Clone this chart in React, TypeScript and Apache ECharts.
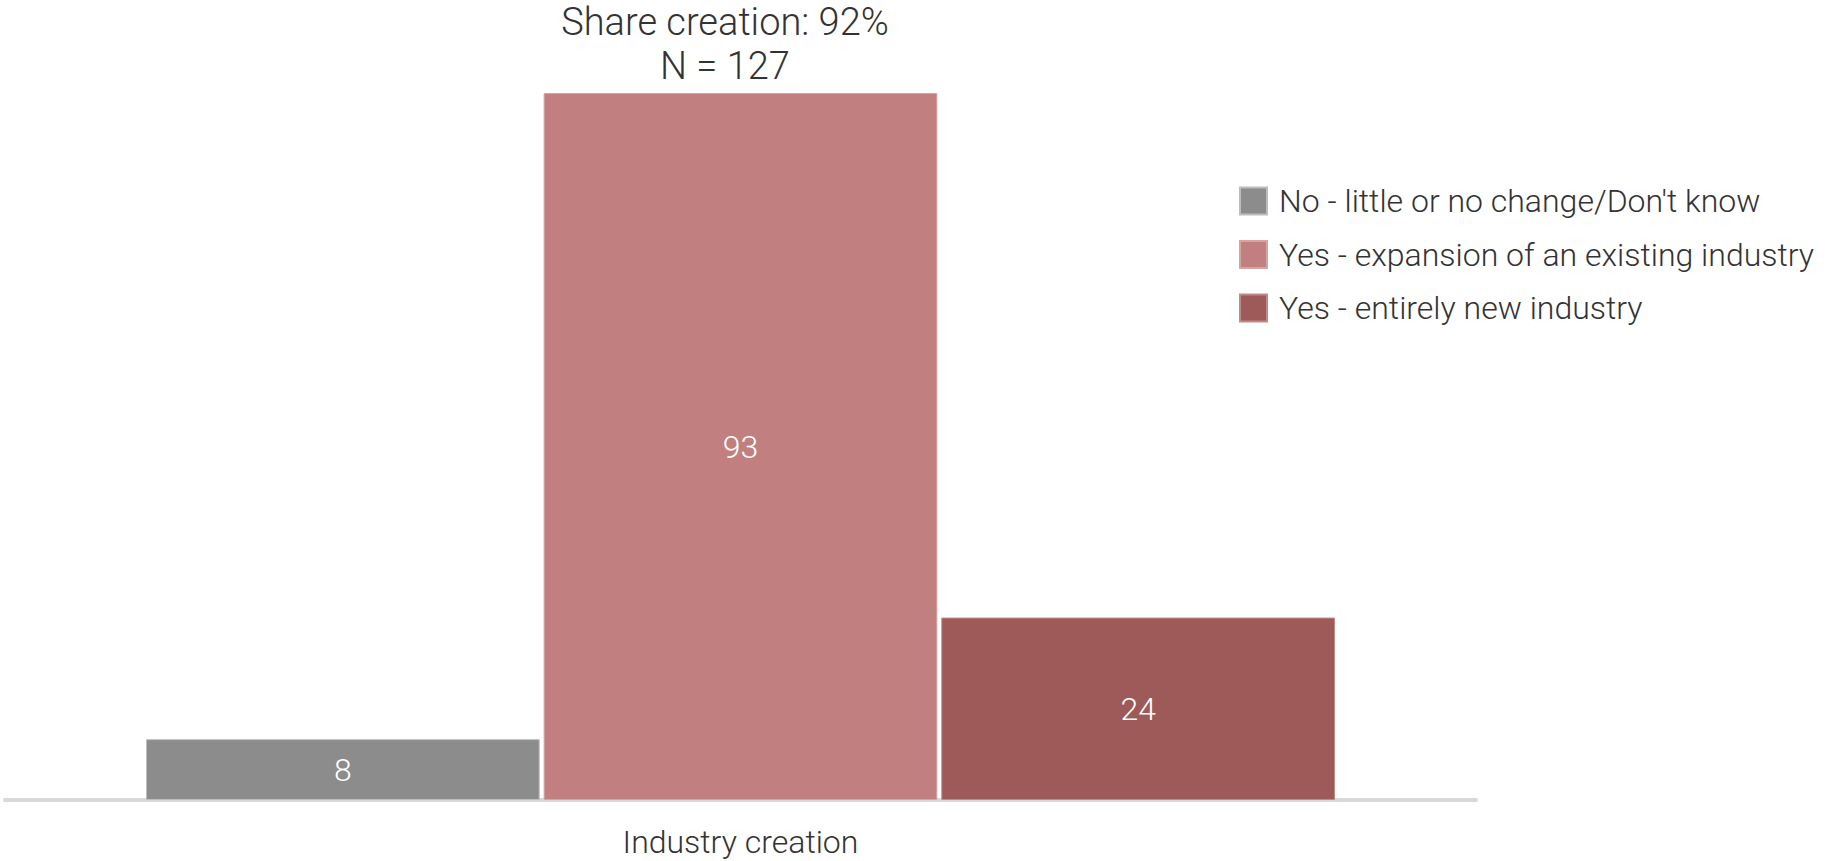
import React, { useEffect, useRef } from "react";
import * as echarts from "echarts";

const categories = ["Industry creation"];
const seriesNames = [
  "No - little or no change/Don't know",
  "Yes - expansion of an existing industry",
  "Yes - entirely new industry",
];
const noChange = [8];
const expansion = [93];
const newIndustry = [24];
const colors = ["#8c8c8c", "#c27f7f", "#9e5959"];
const borderColors = ["#bdbdbd", "#d9a3a3", "#c08a8a"];
const titleLines = ["Share creation: 92%", "N = 127"];

const FONT = "Roboto";
const TEXT_COLOR = "#333333";

export default function App() {
  const ref = useRef<HTMLDivElement>(null);
  useEffect(() => {
    document.body.style.margin = "0";
    const chart = echarts.init(ref.current!, null, { renderer: "svg" });
    const values = [noChange, expansion, newIndustry];
    chart.setOption({
      animation: false,
      textStyle: { fontFamily: FONT, fontWeight: 300 },
      grid: { left: 5, right: 351, top: 93, bottom: 61, containLabel: false },
      legend: {
        orient: "vertical",
        left: 1239,
        top: 185,
        padding: 0,
        itemWidth: 27,
        itemHeight: 27,
        itemGap: 21.5,
        icon: "rect",
        data: seriesNames,
        textStyle: {
          fontFamily: FONT,
          fontWeight: 300,
          fontSize: 32,
          color: TEXT_COLOR,
          padding: [0, 0, 0, 7],
        },
      },
      xAxis: {
        type: "category",
        data: categories,
        offset: 2,
        axisLine: { show: true, lineStyle: { color: "#d9d9d9", width: 4 } },
        axisTick: { show: false },
        axisLabel: {
          margin: 24,
          fontFamily: FONT,
          fontWeight: 300,
          fontSize: 32,
          color: TEXT_COLOR,
        },
      },
      yAxis: {
        type: "value",
        min: 0,
        max: 93,
        show: false,
        splitLine: { show: false },
      },
      graphic: [
        {
          type: "text",
          x: 725,
          y: 0,
          style: {
            text: titleLines.join("\n"),
            textAlign: "center",
            textVerticalAlign: "top",
            fontFamily: FONT,
            fontWeight: 300,
            fontSize: 38,
            lineHeight: 44,
            fill: TEXT_COLOR,
          },
        },
      ],
      series: seriesNames.map((name, i) => ({
        name,
        type: "bar",
        data: values[i],
        barWidth: 393.7,
        barGap: "1%",
        itemStyle: { color: colors[i], borderColor: borderColors[i], borderWidth: 1 },
        label: {
          show: true,
          position: "inside",
          color: "#ffffff",
          fontFamily: FONT,
          fontWeight: 300,
          fontSize: 32,
        },
      })),
    });
    return () => chart.dispose();
  }, []);
  return <div ref={ref} style={{ width: 1827, height: 861 }} />;
}
